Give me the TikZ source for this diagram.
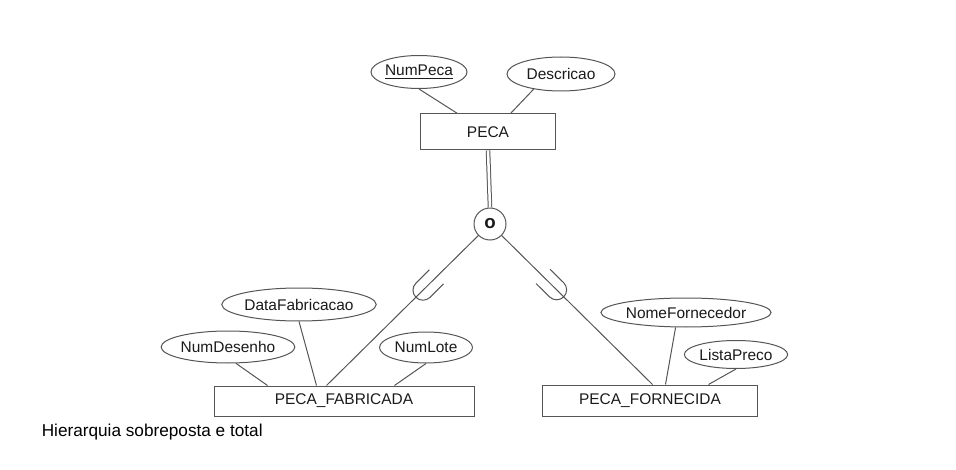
\documentclass[tikz,border=0pt]{standalone}
\usepackage{fontspec}
\setmainfont{Liberation Sans}
\usetikzlibrary{shapes.geometric,calc}
\definecolor{ln}{HTML}{555555}
\definecolor{tx}{HTML}{1A1A1A}
\begin{document}
\begin{tikzpicture}[x=0.75pt,y=-0.75pt,
  ent/.style={draw=ln,line width=0.75pt,rectangle,inner sep=0pt,text=tx,font=\fontsize{11.6}{13}\selectfont},
  attr/.style={draw=ln,line width=0.75pt,ellipse,inner sep=0pt,text=tx,font=\fontsize{11.6}{13}\selectfont},
  conn/.style={draw=ln,line width=0.75pt},
  cupline/.style={draw=ln,line width=0.75pt}]
\useasboundingbox (0,0) rectangle (956,470);
% entities
\node[ent,minimum width=101.25pt,minimum height=27pt] (peca) at (488,132) {PECA};
\node[ent,minimum width=195pt,minimum height=22.5pt] (fab) at (344,401) {PECA\_FABRICADA};
\node[ent,minimum width=161.25pt,minimum height=23.25pt] (forn) at (650,400.5) {PECA\_FORNECIDA};
% attributes
\node[attr,minimum width=61.5pt,minimum height=24.75pt] (numpeca) at (419,72) {\underline{NumPeca}};
\node[attr,minimum width=81pt,minimum height=25.5pt] (descr) at (561,74) {Descricao};
\node[attr,minimum width=114pt,minimum height=24.75pt] (datafab) at (299,304.5) {DataFabricacao};
\node[attr,minimum width=90pt,minimum height=24pt] (numdes) at (228,347) {NumDesenho};
\node[attr,minimum width=69.75pt,minimum height=23.25pt] (numlote) at (426,347.5) {NumLote};
\node[attr,minimum width=107.25pt,minimum height=21.75pt] (nomef) at (686,312.5) {NomeFornecedor};
\node[attr,minimum width=69pt,minimum height=21pt] (listap) at (736,354.5) {ListaPreco};
% specialization circle
\node[draw=ln,line width=0.75pt,circle,minimum size=24pt,inner sep=0pt,text=tx,font=\fontsize{14}{15}\selectfont\bfseries] (o) at (490,224) {o};
% attachment points on entity tops
\coordinate (pA) at ($(peca.north west)+(37.5,0)$);
\coordinate (pB) at ($(peca.north west)+(90.5,0)$);
\coordinate (fA) at ($(fab.north west)+(54,0)$);
\coordinate (fB) at ($(fab.north west)+(103,0)$);
\coordinate (fC) at ($(fab.north west)+(113,0)$);
\coordinate (fD) at ($(fab.north west)+(181,0)$);
\coordinate (gA) at ($(forn.north west)+(110.5,0)$);
\coordinate (gB) at ($(forn.north west)+(123.5,0)$);
\coordinate (gC) at ($(forn.north west)+(166.5,0)$);
% attribute connectors
\draw[conn] (numpeca.south) -- (pA);
\draw[conn] (descr.209) -- (pB);
\draw[conn] (numdes.296) -- (fA);
\draw[conn] (datafab.south) -- (fB);
\draw[conn] (numlote.south) -- (fD);
\draw[conn] (nomef.235) -- (gB);
\draw[conn] (listap.south) -- (gC);
% total participation (double line)
\draw[draw=ln,line width=0.75pt,double=white,double distance=1.9pt] (peca.south) -- (o.north);
% subclass connectors
\draw[conn] (o) -- (fC);
\draw[conn] (o) -- (gA);
% subset symbols
\coordinate (cupL) at ($(o.center)!0.41!(fC)$);
\coordinate (cupR) at ($(o.center)!0.41!(gA)$);
\begin{scope}[shift={(cupL)},rotate=44.8]
  \draw[cupline] (19,10) -- (0,10) arc[start angle=90,end angle=270,radius=10] -- (19,-10);
\end{scope}
\begin{scope}[shift={(cupR)},rotate=135.4]
  \draw[cupline] (19,10) -- (0,10) arc[start angle=90,end angle=270,radius=10] -- (19,-10);
\end{scope}
% caption
\node[anchor=base west,inner sep=0pt,text=black,font=\fontsize{12.9}{15}\selectfont] (cap) at (41.5,436) {Hierarquia sobreposta e total};
\end{tikzpicture}
\end{document}
